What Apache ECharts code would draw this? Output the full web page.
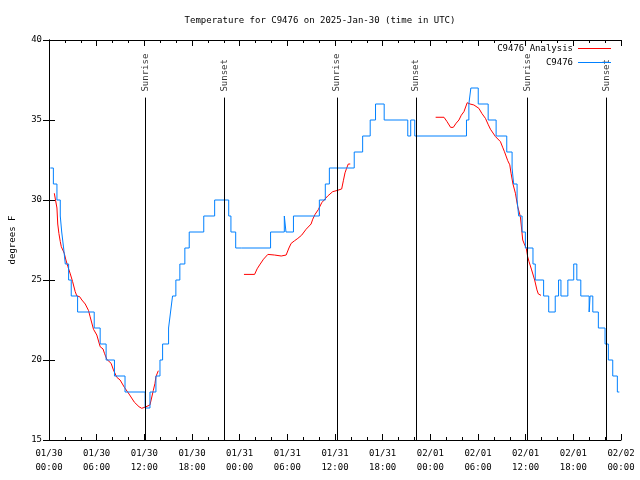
<!DOCTYPE html>
<html>
<head>
<meta charset="utf-8">
<script src="https://cdn.jsdelivr.net/npm/echarts@6/dist/echarts.min.js"></script>
<style>html,body{margin:0;padding:0;background:#fff;}#c{width:640px;height:480px;}</style>
</head>
<body>
<div id="c"></div>
<script>
// ---- data (x = hours since 2025-01-30 00:00 UTC) ----
const titleText = 'Temperature for C9476 on 2025-Jan-30 (time in UTC)';
const xTickLabels = ['01/30\n00:00','01/30\n06:00','01/30\n12:00','01/30\n18:00',
  '01/31\n00:00','01/31\n06:00','01/31\n12:00','01/31\n18:00',
  '02/01\n00:00','02/01\n06:00','02/01\n12:00','02/01\n18:00','02/02\n00:00'];
const obsName = 'C9476';
const anaName = 'C9476 Analysis';

const obsHours = [0.17,0.55,1.0,1.42,1.6,1.84,2.05,2.47,2.8,3.6,5.69,6.44,7.19,8.24,9.57,12.1,12.71,13.46,13.97,14.3,
  15.05,15.3,15.55,15.97,16.47,17.1,17.65,19.48,20.85,22.62,22.9,23.5,24.25,27.89,29.62,29.83,30.77,34.03,34.78,35.29,
  38.42,39.48,40.43,41.1,42.19,45.16,45.53,46.04,52.55,52.85,53.1,54.03,55.28,56.28,57.62,58.29,58.49,58.92,59.12,59.55,
  59.96,60.92,61.21,62.26,62.9,63.72,64.14,64.44,65.31,66.05,66.44,66.94,67.99,68.11,68.45,69.15,69.99,70.41,70.96,71.54,71.79];
const obsTemps = [32,31,30,29,28,27,26,25,24,23,22,21,20,19,18,17,18,19,20,21,
  22,23,24,25,26,27,28,29,30,29,28,27,27,28,29,28,29,30,31,32,
  33,34,35,36,35,34,35,34,35,36,37,36,35,34,33,32,31,30,29,28,
  27,26,25,24,23,24,25,24,25,26,25,24,23,24,23,22,21,20,19,18,18];

// analysis: three separate runs
const anaHours1 = [0.67,0.88,1.0,1.1,1.25,1.42,1.55,1.71,1.92,2.13,2.38,2.68,2.97,3.30,3.51,3.85,4.14,4.56,4.81,4.97,5.18,5.60,6.02,6.44,
  6.8,6.98,7.28,7.82,8.11,8.53,8.95,9.49,10.08,10.75,11.33,11.67,12.08,12.71,13.13,13.34,13.46,13.76];
const anaTemps1 = [30.42,30.4,29.5,28.5,27.9,27.4,27.08,27.08,26.67,26.25,25.83,25.38,24.9,24.27,24.0,23.96,23.75,23.5,23.44,23.1,22.7,21.92,21.56,20.83,
  20.69,20.42,20.04,19.79,19.38,18.92,18.75,18.29,17.87,17.36,17.08,16.98,17.05,17.19,18.1,18.54,18.96,19.33];
const anaHours2 = [24.54,25.88,26.2,26.51,27.0,27.55,28.4,29.23,29.85,30.2,30.48,30.9,31.32,31.8,32.36,32.99,33.2,33.49,33.9,34.33,35.08,
  35.71,36.3,36.84,37.05,37.26,37.46,37.67,37.92];
const anaTemps2 = [25.35,25.35,25.7,25.94,26.3,26.6,26.56,26.5,26.56,27.0,27.29,27.45,27.6,27.8,28.17,28.5,28.8,29.1,29.4,29.83,30.25,
  30.52,30.6,30.69,31.2,31.7,31.98,32.25,32.25];
const anaHours3 = [48.67,49.72,50.1,50.55,50.89,51.25,51.6,51.9,52.23,52.64,53.0,53.48,54.11,54.5,54.94,55.3,55.57,56.2,56.82,57.1,57.33,
  57.74,58.0,58.16,58.4,58.71,59.0,59.33,59.63,59.83,60.08,60.25,60.42,60.75,61.13,61.42,61.59,61.93];
const anaTemps3 = [35.17,35.17,34.9,34.54,34.54,34.8,35.0,35.3,35.52,36.08,36.0,35.94,35.73,35.4,35.1,34.7,34.42,33.96,33.65,33.3,33.02,
  32.46,32.2,31.67,31.0,30.42,29.58,28.97,27.5,27.25,26.98,26.46,26.15,25.63,25.0,24.38,24.13,24.04];

const sunHours = [12.15,22.12,36.25,46.2,60.22,70.16];
const sunNames = ['Sunrise','Sunset','Sunrise','Sunset','Sunrise','Sunset'];

// ---- build ----
const FONT = 'DejaVu Sans Mono';
const FS = 9;
const RED = '#ff0000', BLUE = '#0080ff';
const obsData = obsHours.map((h,i)=>[h, obsTemps[i]]);
const zip = (a,b)=>a.map((h,i)=>[h,b[i]]);
const anaData = [].concat(zip(anaHours1,anaTemps1), [[19,null]], zip(anaHours2,anaTemps2), [[43,null]], zip(anaHours3,anaTemps3));
const sunTop = 36.4;
const sunLines = sunHours.map(h=>[{coord:[h,15]},{coord:[h,sunTop]}]);
const sunLabelData = sunHours.map((h,i)=>({value:[h,sunTop], name:sunNames[i]}));

const axisLine = {show:true, lineStyle:{color:'#000', width:1}};
const chart = echarts.init(document.getElementById('c'), null, {renderer:'canvas'});
chart.setOption({
  animation:false,
  backgroundColor:'#fff',
  textStyle:{fontFamily:FONT, fontSize:FS, color:'#000'},
  title:{text:titleText, left:'center', top:16, padding:0,
    textStyle:{fontFamily:FONT, fontSize:FS, fontWeight:'normal', color:'#000'}},
  legend:{data:[{name:anaName},{name:obsName}], orient:'vertical', right:29, top:43, padding:0,
    align:'right', itemWidth:33, itemHeight:11, itemGap:3,
    icon:'path://M0,5 L33,5 L33,6 L0,6 Z',
    itemStyle:{borderWidth:0},
    textStyle:{fontFamily:FONT, fontSize:FS, color:'#000', lineHeight:11}},
  grid:{left:47, right:19, top:40, bottom:40, containLabel:false},
  xAxis:[
    {type:'value', min:0, max:72, interval:6, position:'bottom', axisLine:axisLine,
      axisTick:{show:true, inside:true, length:6, lineStyle:{color:'#000'}},
      minorTick:{show:true, splitNumber:3, length:3, lineStyle:{color:'#000'}},
      splitLine:{show:false},
      axisLabel:{margin:7, lineHeight:14, fontFamily:FONT, fontSize:FS, color:'#000',
        formatter:(v)=>xTickLabels[Math.round(v/6)]}},
    {type:'value', min:0, max:72, interval:6, position:'top', axisLine:axisLine,
      axisTick:{show:true, inside:true, length:6, lineStyle:{color:'#000'}},
      minorTick:{show:true, splitNumber:3, length:3, lineStyle:{color:'#000'}},
      splitLine:{show:false}, axisLabel:{show:false}}
  ],
  yAxis:[
    {type:'value', min:15, max:40, interval:5, position:'left', axisLine:axisLine,
      axisTick:{show:true, inside:true, length:6, lineStyle:{color:'#000'}},
      splitLine:{show:false},
      axisLabel:{margin:7, fontFamily:FONT, fontSize:FS, color:'#000'},
      name:'degrees F', nameLocation:'middle', nameGap:32, nameRotate:90,
      nameTextStyle:{fontFamily:FONT, fontSize:FS, color:'#000'}},
    {type:'value', min:15, max:40, interval:5, position:'right', axisLine:axisLine,
      axisTick:{show:true, inside:true, length:6, lineStyle:{color:'#000'}},
      splitLine:{show:false}, axisLabel:{show:false}}
  ],
  series:[
    {name:'sun', type:'scatter', xAxisIndex:0, yAxisIndex:0, symbolSize:0, silent:true,
      data:sunLabelData,
      label:{show:true, position:'top', distance:6, rotate:90, align:'left', verticalAlign:'middle',
        formatter:(p)=>p.name, fontFamily:FONT, fontSize:FS, color:'#000'},
      markLine:{silent:true, symbol:['none','none'], label:{show:false},
        lineStyle:{color:'#000', width:1, type:'solid'}, data:sunLines}},
    {name:anaName, type:'line', data:anaData, symbol:'none', showSymbol:false, connectNulls:false,
      color:RED, lineStyle:{color:RED, width:1}, itemStyle:{color:RED}},
    {name:obsName, type:'line', data:obsData, symbol:'none', showSymbol:false, step:'end',
      color:BLUE, lineStyle:{color:BLUE, width:1}, itemStyle:{color:BLUE}}
  ]
});
</script>
</body>
</html>
